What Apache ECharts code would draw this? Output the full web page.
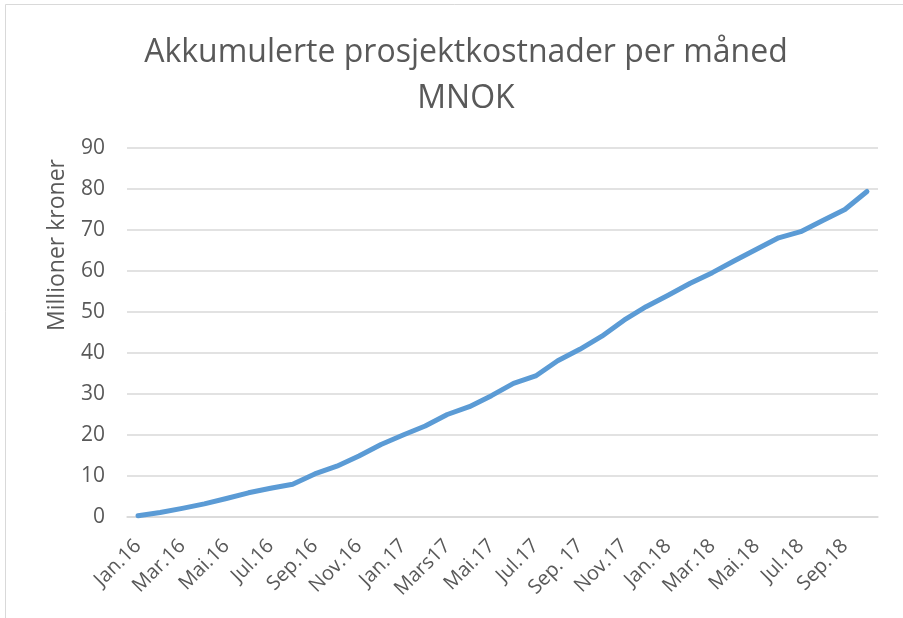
<!DOCTYPE html>
<html>
<head>
<meta charset="utf-8">
<script src="https://cdn.jsdelivr.net/npm/echarts@6/dist/echarts.min.js"></script>
<style>
  html, body { margin: 0; padding: 0; background: #fff; }
  #main { width: 903px; height: 618px; }
</style>
</head>
<body>
<div id="main"></div>
<script>
// maaneder, jan.16 - okt.18
var months = ['Jan.16', 'Feb.16', 'Mar.16', 'Apr.16', 'Mai.16', 'Jun.16', 'Jul.16', 'Aug.16',
	'Sep.16', 'Okt.16', 'Nov.16', 'Des.16', 'Jan.17', 'Feb.17', 'Mars17', 'Apr.17',
	'Mai.17', 'Jun.17', 'Jul.17', 'Aug.17', 'Sep. 17', 'Okt.17', 'Nov.17', 'Des.17',
	'Jan.18', 'Feb.18', 'Mar.18', 'Apr.18', 'Mai.18', 'Jun.18', 'Jul.18', 'Aug.18',
	'Sep.18', 'Okt.18'];

// akkumulerte kostnader (MNOK)
var costs = [0.3, 1.1, 2.1, 3.2, 4.5, 5.9, 7.0, 8.0,
	10.5, 12.4, 14.9, 17.7, 20.0, 22.2, 25.0, 26.9,
	29.6, 32.6, 34.4, 38.1, 40.9, 44.1, 48.0, 51.3,
	54.1, 57.0, 59.6, 62.5, 65.3, 68.1, 69.6, 72.3,
	75.0, 79.4];

var titleLines = ['Akkumulerte prosjektkostnader per måned', 'MNOK'];
var yName = 'Millioner kroner';

var txt = '#595959';
var font = 'Open Sans';

var myChart = echarts.init(document.getElementById('main'));

var option = {
	animation : false,
	backgroundColor : '#fff',
	title : {
		text : titleLines.join('\n'),
		left : 461,
		textAlign : 'center',
		top : 25,
		textStyle : {
			color : txt,
			fontFamily : font,
			fontWeight : 'normal',
			fontSize : 32,
			lineHeight : 46
		}
	},
	grid : {
		left : 127,
		right : 25,
		top : 148,
		bottom : 101,
		containLabel : false
	},
	xAxis : {
		type : 'category',
		data : months,
		boundaryGap : true,
		axisLine : { show : true, lineStyle : { color : '#d9d9d9', width : 1.5 } },
		axisTick : { show : false },
		axisLabel : {
			interval : 1,
			rotate : 45,
			color : txt,
			fontFamily : font,
			fontSize : 20,
			margin : 26
		}
	},
	yAxis : {
		type : 'value',
		min : 0,
		max : 90,
		interval : 10,
		axisLine : { show : false },
		axisTick : { show : false },
		splitLine : { lineStyle : { color : '#d9d9d9', width : 1.5 } },
		axisLabel : {
			color : txt,
			fontFamily : font,
			fontSize : 21,
			margin : 22
		}
	},
	graphic : [{
		type : 'rect',
		shape : { x : 5.5, y : 4.5, width : 903, height : 620 },
		style : { fill : null, stroke : '#d9d9d9', lineWidth : 1 },
		silent : true
	}, {
		type : 'text',
		x : 57,
		y : 245,
		rotation : Math.PI / 2,
		style : {
			text : yName,
			fill : txt,
			font : '23px "Open Sans"',
			align : 'center',
			verticalAlign : 'middle'
		}
	}],
	series : [{
		type : 'line',
		data : costs,
		showSymbol : false,
		symbol : 'none',
		lineStyle : { color : '#5b9bd5', width : 5, cap : 'round', join : 'round' },
		itemStyle : { color : '#5b9bd5' }
	}]
};

myChart.setOption(option);
</script>
</body>
</html>
